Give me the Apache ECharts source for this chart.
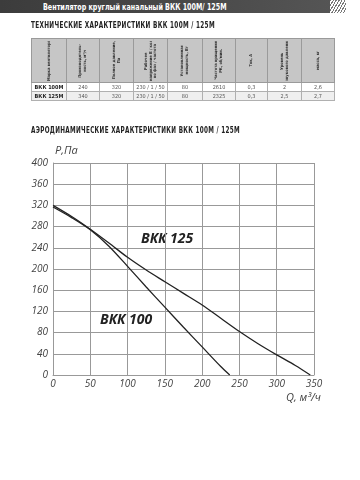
<!DOCTYPE html>
<html>
<head>
<meta charset="utf-8">
<script src="https://cdn.jsdelivr.net/npm/echarts@6/dist/echarts.min.js"></script>
<style>
  html, body { margin:0; padding:0; background:#fff; }
  #wrap { position:relative; width:360px; height:480px; overflow:hidden; }
  #chart { position:absolute; left:0; top:0; width:360px; height:480px; }
  .ov { position:absolute; pointer-events:none; }
  #banner { left:0; top:0; width:334px; height:13px; background:linear-gradient(90deg,#3c3c3c,#4a4a4a 60%,#555); }
  #bannerEnd { left:330px; top:0; width:16px; height:13px;
    background:repeating-linear-gradient(120deg,#777 0 1px,#fff 1px 2.5px); }
  #bannerText { left:43px; top:1px; color:#fff; font:bold 9.5px "DejaVu Sans Condensed","Liberation Sans Narrow",sans-serif; line-height:12px; white-space:nowrap; transform-origin:0 50%; }
  .sect { color:#222; font:bold 8px "DejaVu Sans Condensed","Liberation Sans Narrow",sans-serif; letter-spacing:0.4px; white-space:nowrap; transform-origin:0 50%; }
  #t1 { left:31px; top:21px; }
  #t2 { left:31px; top:126px; }
  table { position:absolute; left:31px; top:38px; border-collapse:collapse; table-layout:fixed; }
  th { background:#c6c6c6; height:43px; border:1px solid #9a9a9a; padding:0; overflow:hidden; }
  th div { writing-mode:vertical-rl; transform:rotate(180deg); font:bold 4px "DejaVu Sans Condensed","Liberation Sans Narrow",sans-serif; color:#333; line-height:4.6px; margin:auto; text-align:center; white-space:nowrap; max-height:40px; overflow:hidden; }
  td { border:1px solid #b0b0b0; height:8px; padding:0; text-align:center; font:5.5px "DejaVu Sans Condensed","Liberation Sans Narrow",sans-serif; color:#555; line-height:8px; overflow:hidden; white-space:nowrap; }
  td.m { font-weight:bold; color:#222; }
  tr.r2 td { background:#efefef; }
</style>
</head>
<body>
<div id="wrap">
  <div id="chart"></div>
  <div class="ov" id="banner"></div>
  <div class="ov" id="bannerEnd"></div>
  <div class="ov" id="bannerText"></div>
  <div class="ov sect" id="t1"></div>
  <div class="ov sect" id="t2"></div>
  <table class="ov" id="tbl"></table>
</div>
<script>
// ---- texts ----
const pageTitle = 'Вентилятор круглый канальный ВКК 100М/ 125М';
const tableTitle = 'ТЕХНИЧЕСКИЕ ХАРАКТЕРИСТИКИ ВКК 100М / 125М';
const chartTitle = 'АЭРОДИНАМИЧЕСКИЕ ХАРАКТЕРИСТИКИ ВКК 100М / 125М';

// ---- table data ----
const tableHeaders = [
  'Марка вентилятора',
  'Производитель-<br>ность, м³/ч',
  'Полное давление,<br>Па',
  'Рабочее<br>напряжение В / кол.<br>во фаз / частота',
  'Установленная<br>мощность, Вт',
  'Частота вращения<br>РК, об/мин.',
  'Ток, А',
  'Уровень<br>звукового давления, дБА',
  'масса, кг'
];
const columnWidths = [35, 33, 34, 34, 35, 33, 32, 34, 33];
const rowModels = ['ВКК 100М', 'ВКК 125М'];
const rowCapacity = ['240', '340'];
const rowPressure = ['320', '320'];
const rowVoltage = ['230 / 1 / 50', '230 / 1 / 50'];
const rowPower = ['80', '80'];
const rowRpm = ['2610', '2325'];
const rowCurrent = ['0,3', '0,3'];
const rowNoise = ['2', '2,5'];
const rowMass = ['2,6', '2,7'];

// ---- chart data: [Q, P] ----
const seriesNames = ['ВКК 125', 'ВКК 100'];
const curve125 = [[0,320],[25,299],[50,275],[75,249],[100,222],[125,198],[150,176],[175,154],[200,132],[225,107],[250,82],[275,59],[300,38],[325,18],[345,0]];
const curve100 = [[0,317],[25,297],[50,274],[75,243],[100,205],[125,166],[150,128],[175,90],[200,53],[225,16],[237,0]];
const xTicks = [0, 50, 100, 150, 200, 250, 300, 350];
const yTicks = [0, 40, 80, 120, 160, 200, 240, 280, 320, 360, 400];
const xAxisLabel = 'Q, м³/ч';
const yAxisLabel = 'P,Па';

function fitWidth(id, text, target) {
  const el = document.getElementById(id);
  el.textContent = text;
  const w = el.scrollWidth;
  if (w > 0) el.style.transform = 'scaleX(' + (target / w) + ')';
}
fitWidth('bannerText', pageTitle, 184);
fitWidth('t1', tableTitle, 184);
fitWidth('t2', chartTitle, 209);

// build table
(function(){
  const t = document.getElementById('tbl');
  let html = '<colgroup>' + columnWidths.map(w => '<col style="width:' + w + 'px">').join('') + '</colgroup>';
  html += '<tr>' + tableHeaders.map(h => '<th><div>' + h + '</div></th>').join('') + '</tr>';
  rowModels.forEach((m, i) => {
    const cells = [rowCapacity[i], rowPressure[i], rowVoltage[i], rowPower[i], rowRpm[i], rowCurrent[i], rowNoise[i], rowMass[i]];
    html += '<tr class="r' + (i + 1) + '"><td class="m">' + m + '</td>' + cells.map(c => '<td>' + c + '</td>').join('') + '</tr>';
  });
  t.innerHTML = html;
})();

const chart = echarts.init(document.getElementById('chart'), null, {renderer:'canvas'});
const lblStyle = { color:'#444', fontSize:10, fontStyle:'italic', fontFamily:'"Open Sans", sans-serif' };
const gridColor = '#999';
chart.setOption({
  backgroundColor:'#fff',
  animation:false,
  grid:{ left:53, top:163, right:46, bottom:105, containLabel:false },
  xAxis:{
    type:'value', min:xTicks[0], max:xTicks[xTicks.length-1], interval:xTicks[1]-xTicks[0],
    axisLine:{ show:true, lineStyle:{ color:gridColor, width:1 } },
    axisTick:{ show:false },
    axisLabel:{ ...lblStyle, margin:4 },
    splitLine:{ show:true, lineStyle:{ color:gridColor, width:1 } }
  },
  yAxis:{
    type:'value', min:yTicks[0], max:yTicks[yTicks.length-1], interval:yTicks[1]-yTicks[0],
    axisLine:{ show:true, lineStyle:{ color:gridColor, width:1 } },
    axisTick:{ show:false },
    axisLabel:{ ...lblStyle, margin:5 },
    splitLine:{ show:true, lineStyle:{ color:gridColor, width:1 } }
  },
  graphic:[
    { type:'text', left:55, top:145, style:{ text:yAxisLabel, fill:'#444', font:'italic 11px "Open Sans", sans-serif' } },
    { type:'text', left:286, top:392, style:{ text:xAxisLabel, fill:'#444', font:'italic 11px "Open Sans", sans-serif' } },
    { type:'text', left:141, top:232, style:{ text:seriesNames[0], fill:'#222', font:'italic bold 14px "Open Sans", sans-serif' } },
    { type:'text', left:100, top:313, style:{ text:seriesNames[1], fill:'#222', font:'italic bold 14px "Open Sans", sans-serif' } }
  ],
  series:[
    { name:seriesNames[0], type:'line', data:curve125, smooth:0.3, showSymbol:false, lineStyle:{ color:'#222', width:1.3 } },
    { name:seriesNames[1], type:'line', data:curve100, smooth:0.3, showSymbol:false, lineStyle:{ color:'#222', width:1.3 } }
  ]
});
</script>
</body>
</html>
